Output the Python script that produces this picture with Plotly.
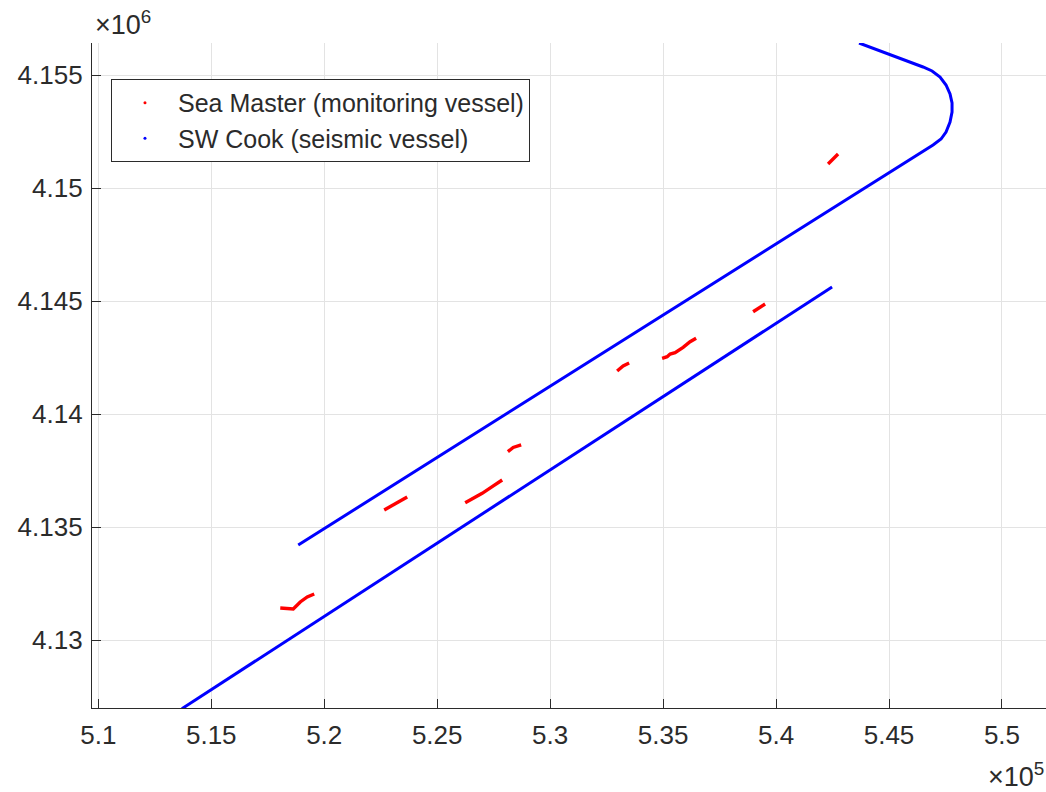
import plotly.graph_objects as go

# Vessel tracks in UTM coordinates (easting, northing), metres.
# Sea Master (monitoring vessel) - separate logged segments
sea_master_segments = [
    ([518054, 518496, 518629, 518939, 519248, 519558],
     [4131416, 4131394, 4131372, 4131682, 4131903, 4132036]),
    ([522656, 523142, 523673],
     [4135753, 4136018, 4136328]),
    ([526240, 526992, 527435, 527877],
     [4136076, 4136491, 4136784, 4137080]),
    ([528129, 528364, 528718],
     [4138332, 4138518, 4138629]),
    ([532966, 533231, 533497],
     [4141903, 4142125, 4142257]),
    ([534957, 535178, 535311, 535532, 535886, 536196, 536462],
     [4142465, 4142536, 4142656, 4142713, 4142952, 4143200, 4143350]),
    ([538984, 539249, 539515],
     [4144527, 4144691, 4144868]),
    ([542303, 542480, 542612, 542745],
     [4151063, 4151240, 4151386, 4151506]),
]

# SW Cook (seismic vessel) - lower survey line
cook_line1_x = [513700, 542480]
cook_line1_y = [4126960, 4145620]

# SW Cook - upper survey line including the turn at its north-east end
cook_line2_x = [518850, 546949, 547303, 547524, 547701, 547790, 547790,
                547701, 547524, 547259, 546905, 546506, 543674]
cook_line2_y = [4134204, 4151904, 4152169, 4152479, 4152922, 4153364, 4153762,
                4154161, 4154559, 4154913, 4155178, 4155355, 4156417]

x_tick_vals = [510000, 515000, 520000, 525000, 530000, 535000, 540000, 545000, 550000]
x_tick_text = ["5.1", "5.15", "5.2", "5.25", "5.3", "5.35", "5.4", "5.45", "5.5"]
y_tick_vals = [4130000, 4135000, 4140000, 4145000, 4150000, 4155000]
y_tick_text = ["4.13", "4.135", "4.14", "4.145", "4.15", "4.155"]

x_range = [509721, 551949]
y_range = [4126991, 4156417]

FONT = "Liberation Sans, Arial, Helvetica, sans-serif"
TEXT = "#2b2b2b"

def join_segments(segs):
    xs, ys = [], []
    for sx, sy in segs:
        xs += list(sx) + [None]
        ys += list(sy) + [None]
    return xs, ys

sm_x, sm_y = join_segments(sea_master_segments)
ck_x, ck_y = join_segments([(cook_line1_x, cook_line1_y), (cook_line2_x, cook_line2_y)])

fig = go.Figure()

fig.add_trace(go.Scatter(x=ck_x, y=ck_y, mode="lines",
                         line=dict(color="#0000ff", width=3),
                         showlegend=False, hoverinfo="skip"))
fig.add_trace(go.Scatter(x=sm_x, y=sm_y, mode="lines",
                         line=dict(color="#ff0000", width=3.4),
                         showlegend=False, hoverinfo="skip"))

# Legend entries use point markers
fig.add_trace(go.Scatter(x=[None], y=[None], mode="markers",
                         marker=dict(color="#ff0000", size=3),
                         name="Sea Master (monitoring vessel)"))
fig.add_trace(go.Scatter(x=[None], y=[None], mode="markers",
                         marker=dict(color="#0000ff", size=3),
                         name="SW Cook (seismic vessel)"))

axis_common = dict(
    showgrid=True, gridcolor="#e3e3e3", gridwidth=1,
    showline=True, linecolor=TEXT, linewidth=1.3,
    ticks="inside", ticklen=9, tickcolor=TEXT, tickwidth=1.3,
    zeroline=False, mirror=False,
    tickfont=dict(family=FONT, size=26, color=TEXT),
)

fig.update_layout(
    width=1046, height=792,
    margin=dict(l=92, r=0, t=43, b=84),
    paper_bgcolor="white", plot_bgcolor="white",
    xaxis=dict(range=x_range, tickvals=x_tick_vals, ticktext=x_tick_text,
               ticklabelstandoff=4, **axis_common),
    yaxis=dict(range=y_range, tickvals=y_tick_vals, ticktext=y_tick_text,
               ticklabelstandoff=3, **axis_common),
    legend=dict(x=0.0199, y=0.946, xanchor="left", yanchor="top",
                bgcolor="white", bordercolor=TEXT, borderwidth=1,
                font=dict(family=FONT, size=25, color=TEXT),
                itemwidth=56, tracegroupgap=0),
    annotations=[
        dict(text="×10<sup>6</sup>", xref="paper", yref="paper",
             x=0.0, y=1.0, xanchor="left", yanchor="bottom", xshift=1, yshift=1,
             showarrow=False, font=dict(family=FONT, size=27, color=TEXT)),
        dict(text="×10<sup>5</sup>", xref="paper", yref="paper",
             x=1.0, y=0.0, xanchor="right", yanchor="top", yshift=-48,
             showarrow=False, font=dict(family=FONT, size=27, color=TEXT)),
    ],
)

fig.write_html("out.html")
